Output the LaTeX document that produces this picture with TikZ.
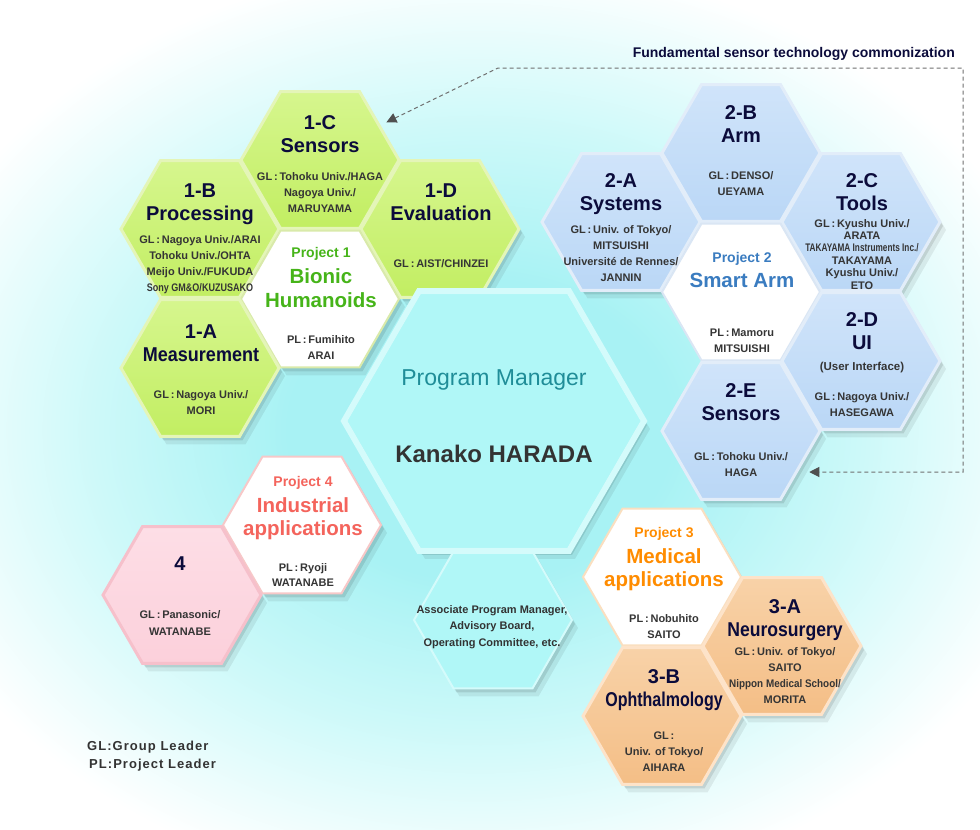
\documentclass[tikz,border=0pt]{standalone}
\usepackage{fontspec}
\setmainfont{Liberation Sans}
\usetikzlibrary{shapes.geometric,arrows.meta,calc}
\definecolor{glowA}{HTML}{A8F2F4}
\definecolor{glowB}{HTML}{CDF9F9}
\definecolor{grM}{HTML}{C2EE62}
\definecolor{grT}{HTML}{D6F68E}
\definecolor{grB}{HTML}{E4F5B8}
\definecolor{blM}{HTML}{BAD7F6}
\definecolor{blT}{HTML}{D0E4FA}
\definecolor{blB}{HTML}{E2EDF9}
\definecolor{orM}{HTML}{F4BE86}
\definecolor{orT}{HTML}{F8D2A8}
\definecolor{orB}{HTML}{FDE3C9}
\definecolor{pkM}{HTML}{FCD0DB}
\definecolor{pkT}{HTML}{FDDEE6}
\definecolor{pkB}{HTML}{F6C0CB}
\definecolor{wgB}{HTML}{D9EAAA}
\definecolor{wbB}{HTML}{DAE6F4}
\definecolor{woB}{HTML}{FADFC0}
\definecolor{wpB}{HTML}{F7C8C8}
\definecolor{cyM}{HTML}{B0F7F7}
\definecolor{cyB}{HTML}{D4FBFB}
\definecolor{cyO}{HTML}{74D0D3}
\definecolor{navy}{HTML}{0B0B3B}
\definecolor{gltxt}{HTML}{353535}
\definecolor{pOne}{HTML}{46B419}
\definecolor{pTwo}{HTML}{3A7CC0}
\definecolor{pThree}{HTML}{FF8C00}
\definecolor{pFour}{HTML}{F4645C}
\definecolor{pmcol}{HTML}{1F8D98}
\definecolor{khcol}{HTML}{333333}
\definecolor{dashc}{HTML}{707070}
\definecolor{tipc}{HTML}{505050}
\pgfdeclareradialshading{bgglow}{\pgfpointorigin}{color(0bp)=(glowA); color(8bp)=(glowA); color(16bp)=(glowB); color(25bp)=(white); color(50bp)=(white)}
\newcommand\hexsh[3]{%
  \foreach \dx/\dy/\op in {3/4/0.10, 6/8/0.07}{%
    \fill[black, opacity=\op, shift={(\dx,\dy)}] (#1+#3,#2) -- (#1+0.5*#3,#2+0.866*#3) -- (#1-0.5*#3,#2+0.866*#3) -- (#1-#3,#2) -- (#1-0.5*#3,#2-0.866*#3) -- (#1+0.5*#3,#2-0.866*#3) -- cycle;}}
\tikzset{
  hx/.style={regular polygon, regular polygon sides=6, minimum size=158pt, inner sep=0pt, outer sep=0pt, line width=3pt},
  grhex/.style={hx, draw=grB, top color=grT, bottom color=grM},
  blhex/.style={hx, draw=blB, top color=blT, bottom color=blM},
  orhex/.style={hx, draw=orB, top color=orT, bottom color=orM},
  pkhex/.style={hx, draw=pkB, top color=pkT, bottom color=pkM},
  whhex/.style={hx, fill=white, line width=2pt},
  ttl/.style={font=\fontsize{20}{23.5}\selectfont\bfseries, text=navy, align=center, anchor=base, inner sep=0pt},
  gl/.style={font=\fontsize{11}{16}\selectfont\bfseries, text=gltxt, align=center, anchor=base, inner sep=0pt},
  prj/.style={font=\fontsize{14}{16}\selectfont\bfseries, anchor=base, inner sep=0pt},
  pnm/.style={font=\fontsize{20.5}{23.5}\selectfont\bfseries, align=center, anchor=base, inner sep=0pt},
  arrowline/.style={draw=dashc, line width=1pt, dashed, dash pattern=on 4pt off 3pt},
  legend/.style={font=\fontsize{13}{18}\selectfont\bfseries\addfontfeatures{LetterSpace=8}, text=khcol, anchor=base west, inner sep=0pt},
}
\begin{document}
\begin{tikzpicture}[x=1pt,y=-1pt]
\useasboundingbox (0,0) rectangle (980,830);
\fill[white] (0,0) rectangle (980,830);
\shade[shading=bgglow] (480,430) ellipse (600pt and 470pt);

% shadows
\hexsh{320}{160}{79}\hexsh{200}{229}{79}\hexsh{440}{229}{79}\hexsh{320}{299}{79}\hexsh{200}{368}{79}
\hexsh{741}{153}{79}\hexsh{621}{222}{79}\hexsh{861}{222}{79}\hexsh{741}{292}{79}\hexsh{861}{361}{79}\hexsh{741}{431}{79}
\hexsh{302}{525}{79}\hexsh{182}{595}{79}
\hexsh{662}{577}{79}\hexsh{782}{646}{79}\hexsh{662}{716}{79}
\hexsh{493}{620}{79}\hexsh{494}{421}{150}

% Project 1
\node[grhex] (n1C) at (320,160) {};
\node[grhex] (n1B) at (200,229) {};
\node[grhex] (n1D) at (440,229) {};
\node[whhex, draw=wgB] (p1) at (320,299) {};
\node[grhex] (n1A) at (200,368) {};
% Project 2
\node[blhex] (n2B) at (741,153) {};
\node[blhex] (n2A) at (621,222) {};
\node[blhex] (n2C) at (861,222) {};
\node[whhex, draw=wbB] (p2) at (741,292) {};
\node[blhex] (n2D) at (861,361) {};
\node[blhex] (n2E) at (741,431) {};
% Project 4
\node[whhex, draw=wpB] (p4) at (302,525) {};
\node[pkhex] (n4) at (182,595) {};
% Project 3
\node[whhex, draw=woB] (p3) at (662,577) {};
\node[orhex] (n3A) at (782,646) {};
\node[orhex] (n3B) at (662,716) {};
% centre
\node[hx, draw=cyB, fill=cyM, line width=2pt] (apm) at (493,620) {};
\node[hx, minimum size=300pt, draw=cyO, fill=cyM, line width=0.8pt, postaction={draw=cyB, line width=6pt, shorten >=0pt}] (pm) at (494,421) {};
\node[hx, minimum size=292pt, draw=none, fill=cyM] (pmin) at (494,421) {};

% texts project 1 (node base = last line baseline)
\node[ttl] (t1C) at (320,152.5) {1-C\\Sensors};
\node[gl] (g1C) at (320,212) {GL\,:\,Tohoku Univ./HAGA\\Nagoya Univ./\\MARUYAMA};
\node[ttl] (t1B) at (200,220.5) {1-B\\Processing};
\node[gl] (g1B) at (200,291) {GL\,:\,Nagoya Univ./ARAI\\Tohoku Univ./OHTA\\Meijo Univ./FUKUDA\\\scalebox{0.82}[1]{Sony GM\&O/KUZUSAKO}};
\node[ttl] (t1D) at (441,220.5) {1-D\\Evaluation};
\node[gl] (g1D) at (441,267) {GL\,:\,AIST/CHINZEI};
\node[prj, text=pOne] (q1) at (321,257) {Project 1};
\node[pnm, text=pOne] (m1) at (321,307) {Bionic\\Humanoids};
\node[gl] (l1) at (321,359) {PL\,:\,Fumihito\\ARAI};
\node[ttl] (t1A) at (201,361.5) {1-A\\\scalebox{0.9}[1]{Measurement}};
\node[gl] (g1A) at (201,414) {GL\,:\,Nagoya Univ./\\MORI};

% texts project 2
\node[ttl] (t2B) at (741,142.5) {2-B\\Arm};
\node[gl] (g2B) at (741,195) {GL\,:\,DENSO/\\UEYAMA};
\node[ttl] (t2A) at (621,210.5) {2-A\\Systems};
\node[gl] (g2A) at (621,281) {GL\,:\,Univ. of Tokyo/\\MITSUISHI\\Université de Rennes/\\JANNIN};
\node[ttl] (t2C) at (862,210.5) {2-C\\Tools};
\node[gl, font=\fontsize{11}{12.4}\selectfont\bfseries] (g2C) at (862,289) {GL\,:\,Kyushu Univ./\\ARATA\\\scalebox{0.75}[1]{TAKAYAMA Instruments Inc./}\\TAKAYAMA\\Kyushu Univ./\\ETO};
\node[prj, text=pTwo] (q2) at (742,262) {Project 2};
\node[pnm, text=pTwo] (m2) at (742,287) {Smart Arm};
\node[gl] (l2) at (742,352) {PL\,:\,Mamoru\\MITSUISHI};
\node[ttl] (t2D) at (862,349.5) {2-D\\UI};
\node[gl, font=\fontsize{11.5}{16}\selectfont\bfseries] (u2D) at (862,370) {(User Interface)};
\node[gl] (g2D) at (862,416) {GL\,:\,Nagoya Univ./\\HASEGAWA};
\node[ttl] (t2E) at (741,420.5) {2-E\\Sensors};
\node[gl] (g2E) at (741,476) {GL\,:\,Tohoku Univ./\\HAGA};

% texts project 4
\node[prj, text=pFour] (q4) at (303,486) {Project 4};
\node[pnm, text=pFour] (m4) at (303,535.5) {Industrial\\applications};
\node[gl, font=\fontsize{11}{15.5}\selectfont\bfseries] (l4) at (303,586.5) {PL\,:\,Ryoji\\WATANABE};
\node[ttl] (t4) at (180,570) {4};
\node[gl, font=\fontsize{11}{17}\selectfont\bfseries] (g4) at (180,635) {GL\,:\,Panasonic/\\WATANABE};

% texts project 3
\node[prj, text=pThree] (q3) at (664,537) {Project 3};
\node[pnm, text=pThree] (m3) at (664,586.5) {Medical\\applications};
\node[gl] (l3) at (664,638) {PL\,:\,Nobuhito\\SAITO};
\node[ttl] (t3A) at (785,636.5) {3-A\\\scalebox{0.88}[1]{Neurosurgery}};
\node[gl, font=\fontsize{11}{15.7}\selectfont\bfseries] (g3A) at (785,703) {GL\,:\,Univ. of Tokyo/\\SAITO\\\scalebox{0.9}[1]{Nippon Medical School/}\\MORITA};
\node[ttl] (t3B) at (664,706.5) {3-B\\\scalebox{0.8}[1]{Ophthalmology}};
\node[gl] (g3B) at (664,771) {GL\,:\\Univ. of Tokyo/\\AIHARA};

% centre texts
\node[anchor=base, inner sep=0pt, font=\fontsize{23}{26}\selectfont, text=pmcol] (pmt) at (494,385) {Program Manager};
\node[anchor=base, inner sep=0pt, font=\fontsize{24}{28}\selectfont\bfseries, text=khcol] (pmn) at (494,462) {Kanako HARADA};
\node[gl, font=\fontsize{11}{16.5}\selectfont\bfseries, text=khcol] (apmt) at (492,646) {Associate Program Manager,\\Advisory Board,\\Operating Committee, etc.};

% legend
\node[legend] (lg1) at (87,750) {GL:Group Leader};
\node[legend] (lg2) at (89,768) {PL:Project Leader};

% connector
\node[anchor=base east, inner sep=0pt, font=\fontsize{14}{16}\selectfont\bfseries, text=navy] (lbl) at (955,57) {Fundamental sensor technology commonization};
\coordinate (k1) at (498,68);
\coordinate (k2) at (963,68);
\coordinate (k3) at (963,472);
\draw[arrowline, {Triangle[width=10pt,length=10pt,color=tipc]}-{Triangle[width=10pt,length=10pt,color=tipc]}, shorten <=8pt, shorten >=9pt]
  (n1C.30) -- (k1) -- (k2) -- (k3) -- (n2E.-30 |- k3);
\end{tikzpicture}
\end{document}
